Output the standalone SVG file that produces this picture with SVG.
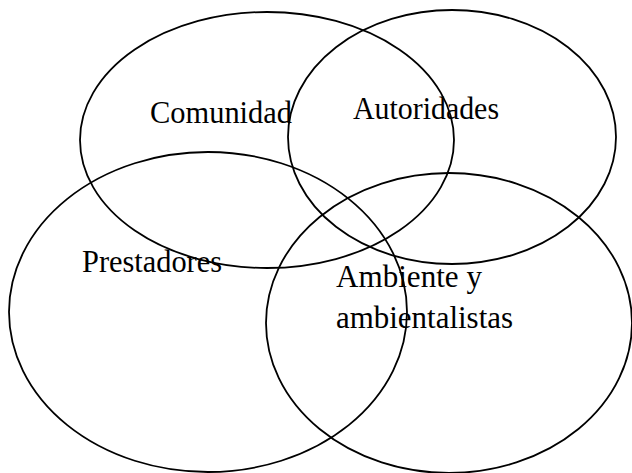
<svg xmlns="http://www.w3.org/2000/svg" width="632" height="473" viewBox="0 0 632 473">
<style>
.c{fill:none;stroke:#000;stroke-width:1.8}
.t{font-family:"Liberation Serif","Times New Roman",serif;font-size:32px;fill:#000}
</style>
<rect width="632" height="473" fill="#fff"/>
<g id="comunidad"><ellipse class="c" cx="267" cy="140" rx="187" ry="128"/><text class="t" x="150" y="123" textLength="142" lengthAdjust="spacingAndGlyphs">Comunidad</text></g>
<g id="autoridades"><ellipse class="c" cx="452" cy="137" rx="164" ry="127"/><text class="t" x="353" y="119" textLength="146" lengthAdjust="spacingAndGlyphs">Autoridades</text></g>
<g id="prestadores"><ellipse class="c" cx="208" cy="312" rx="199" ry="160"/><text class="t" x="82" y="272" textLength="140" lengthAdjust="spacingAndGlyphs">Prestadores</text></g>
<g id="ambiente"><ellipse class="c" cx="449" cy="323" rx="183" ry="150"/><text class="t" x="336" y="287" textLength="146" lengthAdjust="spacingAndGlyphs">Ambiente y</text><text class="t" x="336" y="328" textLength="177" lengthAdjust="spacingAndGlyphs">ambientalistas</text></g>
<g id="connectors"/>
</svg>
